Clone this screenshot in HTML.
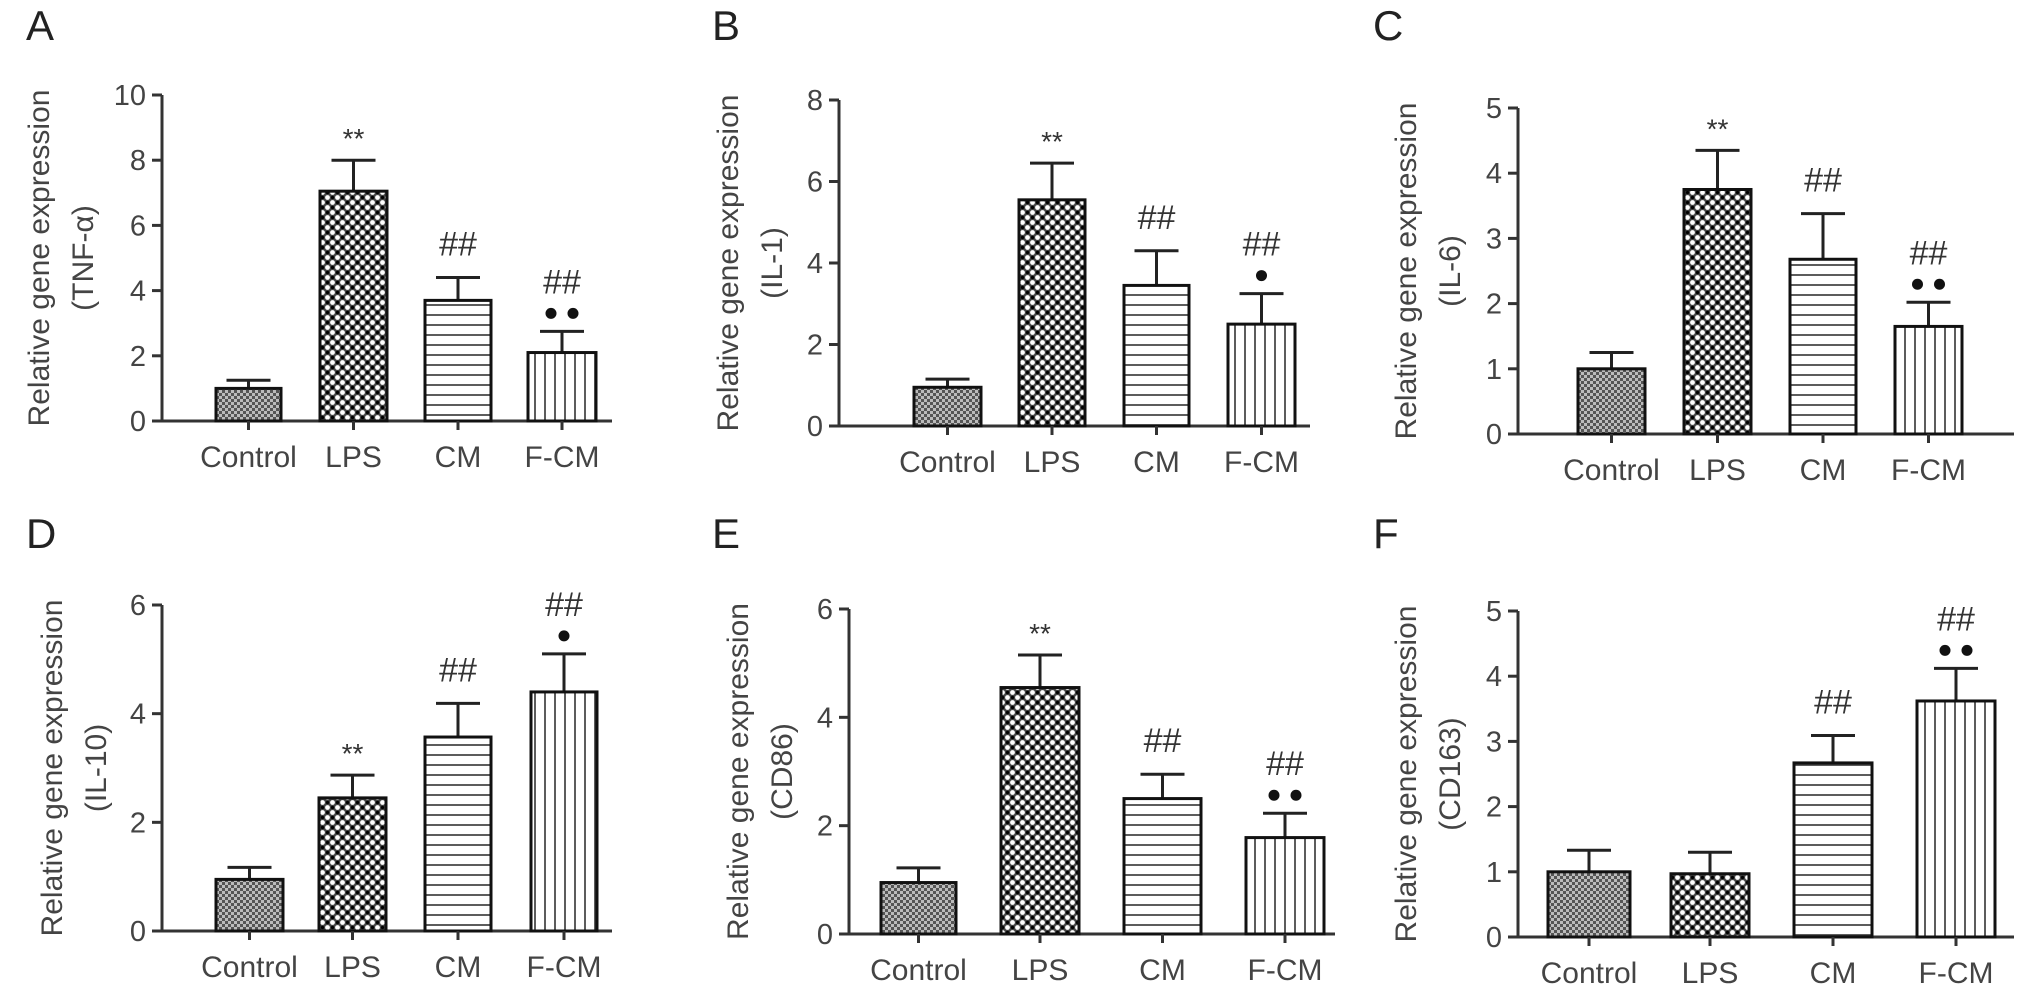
<!DOCTYPE html>
<html><head><meta charset="utf-8">
<style>
html,body{margin:0;padding:0;background:#fff;}
svg{display:block;font-family:"Liberation Sans",Arial,sans-serif;}
</style></head>
<body>
<svg id="fig" width="2032" height="996" viewBox="0 0 2032 996" xmlns="http://www.w3.org/2000/svg">
<defs>
<pattern id="pCtrl" width="6" height="6" patternUnits="userSpaceOnUse">
<rect width="6" height="6" fill="#bbb"/><rect width="3" height="3" fill="#555"/><rect x="3" y="3" width="3" height="3" fill="#555"/>
</pattern>
<pattern id="pLps" width="10" height="10" patternUnits="userSpaceOnUse">
<rect width="10" height="10" fill="#444"/><circle cx="2.5" cy="2.5" r="2.4" fill="#fff"/><circle cx="7.5" cy="7.5" r="2.4" fill="#fff"/><circle cx="7.5" cy="2.5" r="1.6" fill="#000"/><circle cx="2.5" cy="7.5" r="1.6" fill="#000"/>
</pattern>
<pattern id="pCm" width="10" height="10" patternUnits="userSpaceOnUse">
<rect width="10" height="10" fill="#fff"/><line x1="0" y1="5" x2="10" y2="5" stroke="#333" stroke-width="1.6"/>
</pattern>
<pattern id="pFcm" width="10" height="10" patternUnits="userSpaceOnUse">
<rect width="10" height="10" fill="#fff"/><line x1="5" y1="0" x2="5" y2="10" stroke="#333" stroke-width="1.6"/>
</pattern>
</defs>
</svg>
<script>
// ---- data ----
const categories = ["Control","LPS","CM","F-CM"];
const panelLetters = ["A","B","C","D","E","F"];
const genes = ["(TNF-\u03b1)","(IL-1)","(IL-6)","(IL-10)","(CD86)","(CD163)"];
const yMaxes = [10,8,5,6,6,5];
const yStepValues = [2,2,1,2,2,1];
const meansA = [1.0,7.05,3.7,2.1];
const errA = [0.25,0.95,0.7,0.65];
const meansB = [0.95,5.55,3.45,2.5];
const errB = [0.2,0.9,0.85,0.75];
const meansC = [1.0,3.75,2.68,1.65];
const errC = [0.25,0.6,0.7,0.37];
const meansD = [0.95,2.45,3.57,4.4];
const errD = [0.22,0.42,0.62,0.7];
const meansE = [0.95,4.55,2.5,1.78];
const errE = [0.27,0.6,0.45,0.45];
const meansF = [1.0,0.97,2.67,3.62];
const errF = [0.33,0.33,0.42,0.5];
const sigA = ["","**","##","##:••"];
const sigB = ["","**","##","##:•"];
const sigC = ["","**","##","##:••"];
const sigD = ["","**","##","##:•"];
const sigE = ["","**","##","##:••"];
const sigF = ["","","##","##:••"];

// ---- layout ----
const layouts = [
 {ax:162,y0:421,yTop:95,xEnd:612,bars:[[216,281],[320,387],[425,491],[528,596]],tOff:-113,lx:26,ly:40},
 {ax:839,y0:426,yTop:100,xEnd:1310,bars:[[914,981],[1019,1085],[1124,1189],[1228,1295]],tOff:-101,lx:712,ly:40},
 {ax:1518,y0:434,yTop:108,xEnd:2014,bars:[[1578,1645],[1684,1751],[1790,1856],[1895,1962]],tOff:-102,lx:1373,ly:40},
 {ax:162,y0:931,yTop:605,xEnd:612,bars:[[216,283],[319,386],[425,491],[531,597]],tOff:-100,lx:26,ly:548},
 {ax:849,y0:934,yTop:609,xEnd:1335,bars:[[881,956],[1001,1079],[1124,1201],[1246,1324]],tOff:-101,lx:712,ly:548},
 {ax:1518,y0:937,yTop:611,xEnd:2014,bars:[[1548,1630],[1671,1749],[1794,1872],[1917,1995]],tOff:-102,lx:1373,ly:548}
];
const allMeans=[meansA,meansB,meansC,meansD,meansE,meansF];
const allErr=[errA,errB,errC,errD,errE,errF];
const allSig=[sigA,sigB,sigC,sigD,sigE,sigF];
const fills=["url(#pCtrl)","url(#pLps)","url(#pCm)","url(#pFcm)"];
const NS="http://www.w3.org/2000/svg";
const svg=document.getElementById('fig');
function mk(tag,attrs,parent,text){const e=document.createElementNS(NS,tag);for(const k in attrs)e.setAttribute(k,attrs[k]);if(text!==undefined)e.textContent=text;parent.appendChild(e);return e;}

layouts.forEach((L,pi)=>{
  const g=mk('g',{},svg);
  
  
  const yMax=yMaxes[pi];
  const yS=v=>L.y0-(v/yMax)*(L.y0-L.yTop);
  const letter=mk('text',{x:L.lx,y:L.ly,'font-size':42,fill:'#222'},g,panelLetters[pi]);
  
  
  const cy=(L.y0+L.yTop)/2;
  const t1=mk('text',{x:0,y:0,'font-size':30,fill:'#444','text-anchor':'middle',transform:`translate(${L.ax+L.tOff},${cy}) rotate(-90)`},g,'Relative gene expression');
  
  
  const t2=mk('text',{x:0,y:0,'font-size':30,fill:'#444','text-anchor':'middle',transform:`translate(${L.ax+L.tOff+44},${cy}) rotate(-90)`},g,genes[pi]);
  
  
  const ya=mk('line',{x1:L.ax,y1:L.yTop,x2:L.ax,y2:L.y0,stroke:'#333','stroke-width':3},g);
  
  
  for(let v=0;v<=yMax+1e-9;v+=yStepValues[pi]){
    const y=yS(v);
    mk('line',{x1:L.ax-10,y1:y,x2:L.ax,y2:y,stroke:'#333','stroke-width':3},g);
    const tl=mk('text',{x:L.ax-16,y:y+10,'font-size':29,fill:'#444','text-anchor':'end'},g,String(v));
    
    
  }
  const xa=mk('line',{x1:L.ax-1.5,y1:L.y0,x2:L.xEnd,y2:L.y0,stroke:'#333','stroke-width':3},g);
  
  
  categories.forEach((c,i)=>{
    const [x0,x1]=L.bars[i];const cx=(x0+x1)/2;
    const m=allMeans[pi][i],e=allErr[pi][i];
    const yt=yS(m),ye=yS(m+e);
    mk('line',{x1:cx,y1:ye,x2:cx,y2:yt,stroke:'#222','stroke-width':3},g);
    mk('line',{x1:cx-22,y1:ye,x2:cx+22,y2:ye,stroke:'#222','stroke-width':3},g);
    const b=mk('rect',{x:x0,y:yt,width:x1-x0,height:L.y0-yt,fill:fills[i],stroke:'#111','stroke-width':3},g);
    
    
    mk('line',{x1:cx,y1:L.y0,x2:cx,y2:L.y0+9,stroke:'#333','stroke-width':3},g);
    const xl=mk('text',{x:cx,y:L.y0+46,'font-size':30,fill:'#444','text-anchor':'middle'},g,c);
    
    
    const s=allSig[pi][i];
    if(s){
      const parts=s.split(':');
      if(parts[0]==='**'){
        const st=mk('text',{x:cx,y:ye-12,'font-size':28,fill:'#333','text-anchor':'middle'},g,'**');
        
        
      } else if(parts.length===1){
        const st=mk('text',{x:cx,y:ye-22,'font-size':34,fill:'#333','text-anchor':'middle'},g,'##');
        
        
      } else {
        const n=parts[1].length;
        const dots=n===2?[cx-11,cx+11]:[cx];
        dots.forEach(dx=>{const d=mk('circle',{cx:dx,cy:ye-18,r:5.5,fill:'#111'},g);
          
          });
        const st=mk('text',{x:cx,y:ye-38,'font-size':34,fill:'#333','text-anchor':'middle'},g,'##');
        
        
      }
    }
  });
});
</script>
</body></html>
